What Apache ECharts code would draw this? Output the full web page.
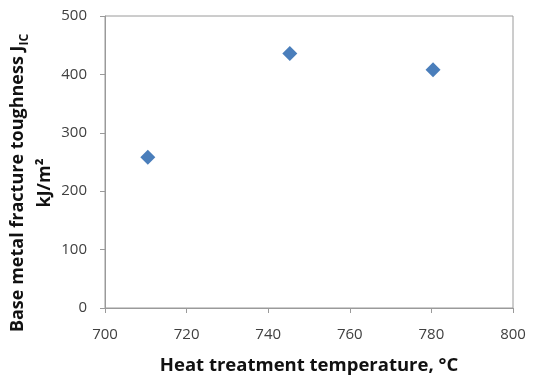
<!DOCTYPE html>
<html><head><meta charset="utf-8">
<script src="https://cdn.jsdelivr.net/npm/echarts@6/dist/echarts.min.js"></script>
<style>html,body{margin:0;padding:0;background:#fff}#c{width:535px;height:384px}</style>
</head><body><div id="c"></div>
<script>
const temperatures = [710.5, 745.3, 780.4];
const toughness = [258, 436, 408];
const xTicks = [700, 720, 740, 760, 780, 800];
const yTicks = [0, 100, 200, 300, 400, 500];

const chart = echarts.init(document.getElementById('c'), null, {renderer: 'canvas'});
const font = 'Open Sans, Liberation Sans, sans-serif';
chart.setOption({
  animation: false,
  grid: {left: 105, right: 22, top: 16, bottom: 76, show: true, borderColor: '#9a9a9a', borderWidth: 1, outerBoundsMode: 'none', containLabel: false},
  xAxis: {
    type: 'value', min: xTicks[0], max: xTicks[xTicks.length-1], interval: 20,
    axisLine: {show: true, lineStyle: {color: '#9a9a9a'}},
    axisTick: {show: true, length: 5, lineStyle: {color: '#9a9a9a'}},
    splitLine: {show: false},
    axisLabel: {color: '#404040', fontSize: 15, fontFamily: font, margin: 19},
    name: 'Heat treatment temperature, °C', nameLocation: 'middle', nameGap: 48,
    nameTextStyle: {color: '#111', fontSize: 18.5, fontWeight: 'bold', fontFamily: font}
  },
  yAxis: {
    type: 'value', min: yTicks[0], max: yTicks[yTicks.length-1], interval: 100,
    axisLine: {show: true, lineStyle: {color: '#9a9a9a'}},
    axisTick: {show: true, length: 5, lineStyle: {color: '#9a9a9a'}},
    splitLine: {show: false},
    axisLabel: {color: '#404040', fontSize: 15, fontFamily: font, margin: 18}
  },
  graphic: [{
    type: 'text', x: 31, y: 183, rotation: Math.PI / 2,
    style: {
      text: '{a|Base metal fracture toughness J}{s|IC}\n{a|kJ/m²}',
      align: 'center', verticalAlign: 'middle', fill: '#111',
      rich: {
        a: {fontSize: 18, fontWeight: 'bold', fill: '#111', fontFamily: font, lineHeight: 27, align: 'center'},
        s: {fontSize: 12, fontWeight: 'bold', fill: '#111', fontFamily: font, verticalAlign: 'bottom', lineHeight: 27, padding: [8,0,0,0]}
      }
    }
  }],
  series: [{
    type: 'scatter', symbol: 'diamond', symbolSize: 15,
    itemStyle: {color: '#4a7ebb', opacity: 1},
    data: temperatures.map((t, i) => [t, toughness[i]])
  }]
});
</script></body></html>
